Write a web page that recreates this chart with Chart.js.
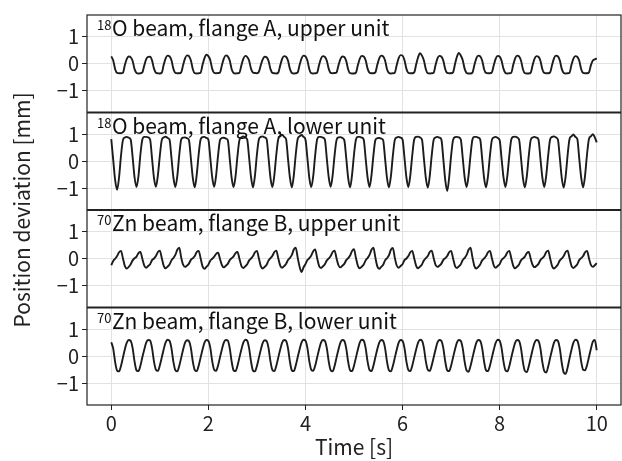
<!DOCTYPE html>
<html>
<head>
<meta charset="utf-8">
<script src="https://cdn.jsdelivr.net/npm/chart.js@4.4.1/dist/chart.umd.min.js"></script>
<style>
  html, body { margin: 0; padding: 0; background: #fff; }
  #wrap { width: 622px; height: 461px; }
</style>
</head>
<body>
<div id="wrap"><canvas id="chart" width="622" height="461"></canvas></div>
<script>
// Trazas de desviación de posición, muestreadas cada 0.04 s (0 .. 10 s)
const dt = 0.04;

const xTicks = [0, 2, 4, 6, 8, 10];
const yTicks = [-1, 0, 1];

const panelIsotopes = ['18', '18', '70', '70'];
const panelTexts = [
  'O beam, flange A, upper unit',
  'O beam, flange A, lower unit',
  'Zn beam, flange B, upper unit',
  'Zn beam, flange B, lower unit'
];

const flangeAUpper = [
  0.27, 0.12, -0.2, -0.34, -0.35, -0.35, -0.33, -0.05, 0.18, 0.27,
  0.24, 0.1, -0.2, -0.34, -0.36, -0.35, -0.32, -0.06, 0.17, 0.25,
  0.26, 0.12, -0.18, -0.33, -0.35, -0.36, -0.33, -0.04, 0.2, 0.3,
  0.27, 0.13, -0.19, -0.34, -0.35, -0.35, -0.32, -0.05, 0.2, 0.31,
  0.28, 0.12, -0.2, -0.35, -0.36, -0.35, -0.33, -0.04, 0.21, 0.33,
  0.28, 0.13, -0.19, -0.34, -0.35, -0.34, -0.32, -0.05, 0.2, 0.31,
  0.27, 0.12, -0.2, -0.34, -0.36, -0.35, -0.33, -0.06, 0.18, 0.29,
  0.25, 0.11, -0.19, -0.33, -0.34, -0.35, -0.3, -0.05, 0.16, 0.26,
  0.24, 0.1, -0.2, -0.34, -0.35, -0.36, -0.33, -0.06, 0.18, 0.28,
  0.26, 0.12, -0.19, -0.34, -0.36, -0.35, -0.32, -0.04, 0.2, 0.3,
  0.27, 0.12, -0.2, -0.35, -0.36, -0.35, -0.33, -0.05, 0.19, 0.28,
  0.25, 0.11, -0.19, -0.34, -0.35, -0.34, -0.32, -0.06, 0.17, 0.27,
  0.25, 0.1, -0.21, -0.35, -0.36, -0.36, -0.33, -0.05, 0.19, 0.29,
  0.27, 0.13, -0.18, -0.33, -0.35, -0.35, -0.32, -0.04, 0.2, 0.3,
  0.27, 0.12, -0.2, -0.34, -0.36, -0.35, -0.33, -0.05, 0.21, 0.32,
  0.3, 0.13, -0.19, -0.34, -0.35, -0.35, -0.32, -0.03, 0.24, 0.39,
  0.3, 0.12, -0.2, -0.35, -0.36, -0.35, -0.33, -0.05, 0.2, 0.29,
  0.26, 0.11, -0.2, -0.34, -0.35, -0.35, -0.32, -0.02, 0.26, 0.4,
  0.3, 0.13, -0.19, -0.34, -0.36, -0.36, -0.33, -0.05, 0.2, 0.3,
  0.27, 0.12, -0.2, -0.34, -0.35, -0.35, -0.32, -0.05, 0.19, 0.29,
  0.26, 0.11, -0.19, -0.34, -0.36, -0.35, -0.33, -0.04, 0.2, 0.3,
  0.27, 0.12, -0.2, -0.35, -0.36, -0.36, -0.33, -0.05, 0.19, 0.28,
  0.26, 0.11, -0.2, -0.34, -0.35, -0.35, -0.32, -0.05, 0.2, 0.3,
  0.27, 0.12, -0.19, -0.34, -0.36, -0.35, -0.33, -0.04, 0.19, 0.28,
  0.25, 0.11, -0.2, -0.34, -0.35, -0.35, -0.32, -0.05, 0.12, 0.16,
  0.2
];

const flangeALower = [
  0.82, 0.05, -0.7, -1.05, -0.6, 0.2, 0.78, 0.88, 0.9, 0.87,
  0.8, 0.15, -0.6, -0.95, -0.55, 0.25, 0.8, 0.9, 0.9, 0.88,
  0.8, 0.1, -0.62, -0.94, -0.52, 0.2, 0.78, 0.88, 0.91, 0.86,
  0.8, 0.12, -0.6, -0.95, -0.55, 0.22, 0.8, 0.87, 0.88, 0.85,
  0.78, 0.1, -0.62, -0.96, -0.5, 0.25, 0.8, 0.89, 0.9, 0.86,
  0.8, 0.12, -0.6, -0.94, -0.52, 0.22, 0.78, 0.86, 0.87, 0.84,
  0.78, 0.1, -0.62, -0.95, -0.55, 0.2, 0.78, 0.88, 0.92, 0.88,
  0.8, 0.12, -0.6, -0.96, -0.52, 0.25, 0.8, 0.9, 0.92, 0.88,
  0.82, 0.12, -0.62, -0.95, -0.5, 0.25, 0.82, 0.92, 0.98, 0.9,
  0.82, 0.1, -0.6, -0.96, -0.52, 0.25, 0.82, 0.92, 0.97, 0.9,
  0.8, 0.12, -0.62, -0.95, -0.55, 0.22, 0.8, 0.9, 0.9, 0.87,
  0.8, 0.1, -0.6, -0.94, -0.52, 0.22, 0.78, 0.88, 0.89, 0.86,
  0.78, 0.12, -0.62, -0.96, -0.5, 0.25, 0.8, 0.9, 0.9, 0.87,
  0.8, 0.1, -0.6, -0.95, -0.52, 0.22, 0.78, 0.85, 0.86, 0.84,
  0.78, 0.1, -0.62, -0.96, -0.55, 0.2, 0.78, 0.88, 0.9, 0.87,
  0.8, 0.12, -0.6, -0.95, -0.52, 0.22, 0.8, 0.9, 0.91, 0.88,
  0.8, 0.1, -0.62, -0.97, -0.55, 0.2, 0.78, 0.88, 0.9, 0.87,
  0.8, 0.08, -0.7, -1.1, -0.6, 0.2, 0.78, 0.89, 0.9, 0.88,
  0.8, 0.12, -0.6, -0.95, -0.52, 0.22, 0.8, 0.9, 0.9, 0.87,
  0.8, 0.1, -0.62, -0.96, -0.55, 0.2, 0.78, 0.88, 0.9, 0.86,
  0.78, 0.1, -0.6, -0.95, -0.52, 0.22, 0.8, 0.9, 0.91, 0.88,
  0.8, 0.12, -0.62, -0.96, -0.55, 0.2, 0.78, 0.88, 0.9, 0.87,
  0.8, 0.1, -0.6, -0.95, -0.52, 0.22, 0.8, 0.9, 0.92, 0.88,
  0.8, 0.12, -0.62, -0.97, -0.55, 0.22, 0.82, 0.92, 0.99, 0.9,
  0.82, 0.1, -0.6, -0.96, -0.52, 0.25, 0.82, 0.92, 1.0, 0.88,
  0.7
];

const flangeBUpper = [
  -0.24, -0.08, 0.0, 0.1, 0.24, 0.29, 0.02, -0.27, -0.36, -0.3,
  -0.2, -0.06, 0.02, 0.08, 0.21, 0.25, 0.0, -0.25, -0.33, -0.27,
  -0.2, -0.05, 0.01, 0.1, 0.25, 0.3, 0.03, -0.26, -0.35, -0.29,
  -0.21, -0.06, 0.03, 0.14, 0.33, 0.41, 0.05, -0.22, -0.3, -0.25,
  -0.18, -0.04, 0.02, 0.1, 0.25, 0.29, 0.02, -0.28, -0.37, -0.3,
  -0.22, -0.07, 0.0, 0.08, 0.18, 0.22, -0.01, -0.24, -0.32, -0.26,
  -0.19, -0.05, 0.02, 0.09, 0.21, 0.25, 0.0, -0.26, -0.34, -0.28,
  -0.2, -0.06, 0.01, 0.1, 0.24, 0.29, 0.02, -0.27, -0.36, -0.3,
  -0.22, -0.06, 0.02, 0.11, 0.25, 0.3, 0.02, -0.25, -0.33, -0.27,
  -0.19, -0.05, 0.03, 0.14, 0.34, 0.41, 0.04, -0.3, -0.49, -0.32,
  -0.2, -0.05, 0.02, 0.12, 0.28, 0.34, 0.03, -0.26, -0.34, -0.28,
  -0.2, -0.06, 0.01, 0.1, 0.25, 0.3, 0.02, -0.24, -0.32, -0.26,
  -0.19, -0.05, 0.02, 0.12, 0.29, 0.35, 0.03, -0.26, -0.35, -0.29,
  -0.21, -0.06, 0.03, 0.14, 0.33, 0.41, 0.05, -0.28, -0.37, -0.3,
  -0.22, -0.06, 0.02, 0.13, 0.33, 0.4, 0.04, -0.25, -0.33, -0.27,
  -0.2, -0.05, 0.01, 0.1, 0.24, 0.29, 0.02, -0.26, -0.35, -0.29,
  -0.21, -0.06, 0.02, 0.1, 0.25, 0.3, 0.03, -0.23, -0.3, -0.25,
  -0.18, -0.04, 0.02, 0.1, 0.24, 0.29, 0.02, -0.26, -0.34, -0.28,
  -0.2, -0.05, 0.03, 0.14, 0.33, 0.41, 0.05, -0.27, -0.36, -0.3,
  -0.21, -0.06, 0.01, 0.1, 0.24, 0.29, 0.02, -0.25, -0.33, -0.27,
  -0.2, -0.05, 0.02, 0.1, 0.24, 0.29, 0.02, -0.26, -0.35, -0.29,
  -0.21, -0.06, 0.01, 0.08, 0.21, 0.25, 0.0, -0.23, -0.31, -0.26,
  -0.19, -0.05, 0.02, 0.1, 0.25, 0.3, 0.02, -0.27, -0.36, -0.3,
  -0.21, -0.06, 0.01, 0.1, 0.25, 0.3, 0.02, -0.26, -0.34, -0.28,
  -0.2, -0.05, 0.02, 0.1, 0.24, 0.29, 0.02, -0.23, -0.3, -0.24,
  -0.16
];

const flangeBLower = [
  0.52, 0.28, -0.22, -0.53, -0.56, -0.36, -0.05, 0.26, 0.5, 0.6,
  0.57, 0.3, -0.2, -0.52, -0.55, -0.35, -0.04, 0.25, 0.5, 0.6,
  0.58, 0.3, -0.2, -0.5, -0.54, -0.34, -0.05, 0.26, 0.51, 0.61,
  0.57, 0.29, -0.21, -0.52, -0.56, -0.36, -0.06, 0.25, 0.5, 0.59,
  0.56, 0.3, -0.2, -0.51, -0.55, -0.35, -0.05, 0.25, 0.5, 0.6,
  0.57, 0.31, -0.19, -0.5, -0.54, -0.34, -0.04, 0.26, 0.51, 0.6,
  0.58, 0.3, -0.2, -0.52, -0.55, -0.35, -0.05, 0.25, 0.5, 0.61,
  0.58, 0.29, -0.21, -0.53, -0.56, -0.36, -0.06, 0.24, 0.49, 0.59,
  0.56, 0.3, -0.2, -0.51, -0.55, -0.35, -0.05, 0.25, 0.5, 0.6,
  0.57, 0.3, -0.2, -0.52, -0.55, -0.34, -0.04, 0.26, 0.51, 0.61,
  0.58, 0.31, -0.19, -0.5, -0.54, -0.35, -0.05, 0.25, 0.5, 0.6,
  0.57, 0.3, -0.2, -0.52, -0.56, -0.36, -0.05, 0.25, 0.5, 0.6,
  0.57, 0.29, -0.21, -0.52, -0.55, -0.35, -0.05, 0.25, 0.51, 0.61,
  0.58, 0.3, -0.2, -0.51, -0.55, -0.35, -0.04, 0.26, 0.5, 0.6,
  0.57, 0.3, -0.2, -0.52, -0.56, -0.36, -0.06, 0.24, 0.5, 0.6,
  0.57, 0.3, -0.2, -0.51, -0.55, -0.35, -0.05, 0.25, 0.5, 0.61,
  0.58, 0.31, -0.19, -0.5, -0.54, -0.34, -0.05, 0.25, 0.51, 0.6,
  0.57, 0.3, -0.2, -0.52, -0.55, -0.35, -0.05, 0.25, 0.5, 0.6,
  0.57, 0.29, -0.21, -0.53, -0.57, -0.36, -0.06, 0.24, 0.5, 0.6,
  0.57, 0.3, -0.2, -0.52, -0.55, -0.35, -0.05, 0.25, 0.5, 0.61,
  0.58, 0.3, -0.2, -0.52, -0.56, -0.36, -0.05, 0.25, 0.5, 0.6,
  0.57, 0.29, -0.22, -0.54, -0.58, -0.37, -0.06, 0.25, 0.5, 0.6,
  0.57, 0.29, -0.22, -0.55, -0.6, -0.38, -0.06, 0.24, 0.5, 0.6,
  0.57, 0.28, -0.25, -0.6, -0.65, -0.42, -0.08, 0.24, 0.5, 0.61,
  0.58, 0.3, -0.2, -0.5, -0.52, -0.33, -0.03, 0.28, 0.54, 0.6,
  0.22
];

const series = [flangeAUpper, flangeALower, flangeBUpper, flangeBLower];
const panelIds = ['y1', 'y2', 'y3', 'y4'];

const FONT = '"Noto Sans CJK JP", "Noto Sans", sans-serif';
const INK = '#222';

const toPoints = arr => arr.map((v, i) => ({ x: +(i * dt).toFixed(2), y: v }));
const minusFmt = v => (v < 0 ? '\u2212' + Math.abs(v) : String(v));

// Marcos, etiquetas de panel y título del eje Y
const panelDecor = {
  id: 'panelDecor',
  afterDatasetsDraw(chart) {
    const { ctx, chartArea: a } = chart;
    ctx.save();
    ctx.fillStyle = '#111';
    ctx.textBaseline = 'alphabetic';
    ctx.textAlign = 'left';
    panelIds.forEach((id, i) => {
      const s = chart.scales[id];
      const x0 = a.left + 10, base = s.top + 21;
      ctx.font = '13px ' + FONT;
      ctx.fillText(panelIsotopes[i], x0, base - 6);
      const w = ctx.measureText(panelIsotopes[i]).width;
      ctx.font = '21px ' + FONT;
      ctx.fillText(panelTexts[i], x0 + w + 0.5, base);
    });

    ctx.strokeStyle = INK;
    ctx.lineWidth = 1.2;
    ctx.strokeRect(a.left, a.top, a.right - a.left, a.bottom - a.top);
    ctx.lineWidth = 2;
    panelIds.slice(1).forEach(id => {
      const y = chart.scales[id].top;
      ctx.beginPath();
      ctx.moveTo(a.left, y);
      ctx.lineTo(a.right, y);
      ctx.stroke();
    });

    ctx.translate(22, (a.top + a.bottom) / 2);
    ctx.rotate(-Math.PI / 2);
    ctx.textAlign = 'center';
    ctx.textBaseline = 'middle';
    ctx.font = '21px ' + FONT;
    ctx.fillStyle = INK;
    ctx.fillText('Position deviation [mm]', 0, 0);
    ctx.restore();
  }
};

const yScale = () => ({
  type: 'linear',
  position: 'left',
  stack: 'panels',
  stackWeight: 1,
  min: -1.8,
  max: 1.8,
  afterBuildTicks: s => { s.ticks = yTicks.map(v => ({ value: v })); },
  afterFit: s => { s.width = 87; },
  border: { display: false },
  grid: { color: '#e2e2e2', lineWidth: 1, tickColor: INK, tickLength: 5 },
  ticks: {
    color: INK, padding: 3, autoSkip: false,
    font: { family: FONT, size: 20 },
    callback: minusFmt
  }
});

const scales = {
  x: {
    type: 'linear',
    min: -0.5,
    max: 10.5,
    afterBuildTicks: s => { s.ticks = xTicks.map(v => ({ value: v })); },
    afterFit: s => { s.height = 56; },
    border: { display: false },
    grid: { color: '#e2e2e2', lineWidth: 1, tickColor: INK, tickLength: 5 },
    ticks: {
      color: INK, padding: 1, autoSkip: false, maxRotation: 0,
      font: { family: FONT, size: 20 },
      callback: minusFmt
    },
    title: {
      display: true, text: 'Time [s]', color: INK,
      font: { family: FONT, size: 21 },
      padding: { top: 0, bottom: 1 }
    }
  }
};
// los ejes apilados se colocan de abajo hacia arriba: se definen en orden inverso
panelIds.slice().reverse().forEach(id => { scales[id] = yScale(); });

new Chart(document.getElementById('chart'), {
  type: 'line',
  data: {
    datasets: series.map((arr, i) => ({
      data: toPoints(arr),
      yAxisID: panelIds[i],
      borderColor: '#1c1c1c',
      borderWidth: 1.9,
      pointRadius: 0,
      cubicInterpolationMode: 'monotone',
      fill: false
    }))
  },
  options: {
    responsive: false,
    animation: false,
    devicePixelRatio: 1,
    layout: { padding: { top: 8, right: 1, left: 0, bottom: 0 } },
    plugins: { legend: { display: false }, tooltip: { enabled: false } },
    scales
  },
  plugins: [panelDecor]
});
</script>
</body>
</html>
